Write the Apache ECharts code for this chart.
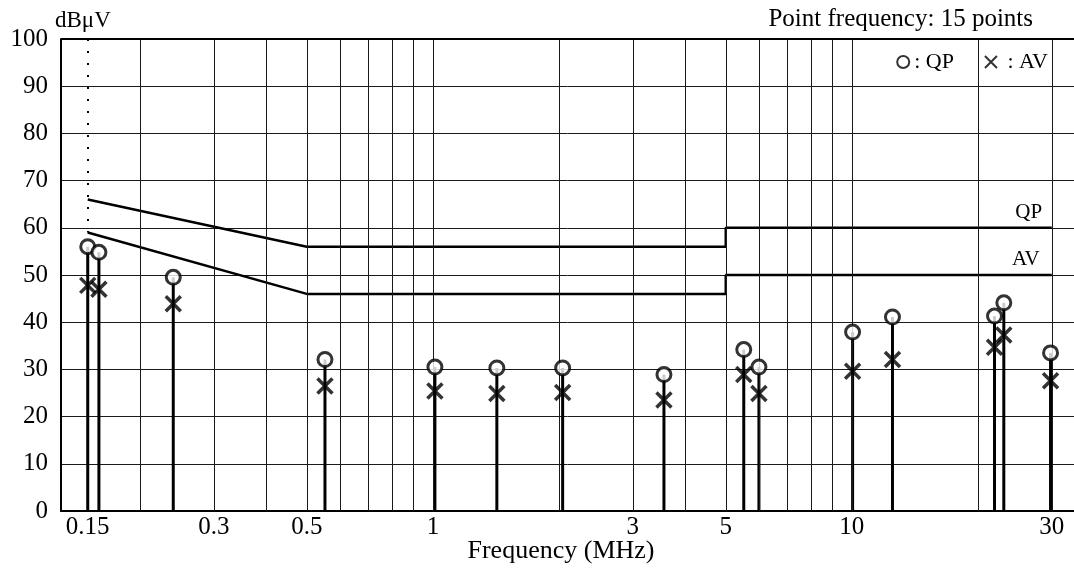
<!DOCTYPE html>
<html><head><meta charset="utf-8">
<script src="https://cdn.jsdelivr.net/npm/echarts@6/dist/echarts.min.js"></script>
<style>html,body{margin:0;padding:0;background:#fff}#c{width:1074px;height:569px}</style>
</head><body><div id="c"></div>
<script>
// ---- data ----
const freqs     = [0.15, 0.1595, 0.24, 0.5525, 1.011, 1.421, 2.04, 3.56, 5.52, 6.0, 10.04, 12.5, 21.9, 23.05, 29.8];
const qpValues  = [56.0, 54.8, 49.5, 32.1, 30.5, 30.3, 30.3, 28.9, 34.2, 30.5, 37.9, 41.1, 41.3, 44.1, 33.5];
const avValues  = [47.8, 47.0, 43.9, 26.5, 25.4, 24.9, 25.1, 23.5, 28.9, 24.9, 29.6, 32.1, 34.7, 37.3, 27.6];
const qpLimitFreq   = [0.15, 0.5, 5, 5, 30];
const qpLimitValues = [66, 56, 56, 60, 60];
const avLimitFreq   = [0.15, 0.5, 5, 5, 30];
const avLimitValues = [59, 46, 46, 50, 50];
const gridFreqs  = [0.2, 0.3, 0.4, 0.5, 0.6, 0.7, 0.8, 0.9, 1, 2, 3, 4, 5, 6, 7, 8, 9, 10, 20, 30];
const xTickValues = [0.15, 0.3, 0.5, 1, 3, 5, 10, 30];
const xTickLabels = ['0.15', '0.3', '0.5', '1', '3', '5', '10', '30'];
const legendLabels = {QP: ': QP', AV: ' : AV'};
const yMin = 0, yMax = 100, yStep = 10;
const xMin = 0.1295, xMax = 33.9;

const FONT = "'Liberation Serif', 'Times New Roman', serif";
const chart = echarts.init(document.getElementById('c'), null, {renderer: 'canvas'});

const zip = (a, b) => a.map((v, i) => [v, b[i]]);

chart.setOption({
  backgroundColor: '#fff',
  animation: false,
  title: {
    text: 'Point frequency: 15 points', right: 36, top: 2,
    textStyle: {fontFamily: FONT, fontSize: 25, fontWeight: 'normal', color: '#000'}
  },
  legend: {
    data: ['QP', 'AV'], right: 21, top: 46, itemWidth: 12, itemHeight: 12, itemGap: 30,
    selectedMode: false,
    formatter: n => legendLabels[n],
    textStyle: {fontFamily: FONT, fontSize: 22, color: '#000'}
  },
  grid: {left: 61, right: 0, top: 39, bottom: 56},
  xAxis: {
    type: 'log', logBase: 10, min: xMin, max: xMax,
    axisLine: {show: true, lineStyle: {color: '#000', width: 2}},
    axisTick: {show: false}, axisLabel: {show: false}, splitLine: {show: false}, minorSplitLine: {show: false},
    name: 'Frequency (MHz)', nameLocation: 'middle', nameGap: 27,
    nameTextStyle: {fontFamily: FONT, fontSize: 26, color: '#000', padding: [0, 13, 0, 0]}
  },
  yAxis: {
    type: 'value', min: yMin, max: yMax, interval: yStep,
    axisLine: {show: true, lineStyle: {color: '#000', width: 2}},
    axisTick: {show: false},
    axisLabel: {fontFamily: FONT, fontSize: 25, color: '#000', margin: 13},
    splitLine: {show: true, lineStyle: {color: '#1a1a1a', width: 1}},
    name: 'dBμV', nameLocation: 'end', nameGap: 7,
    nameTextStyle: {fontFamily: FONT, fontSize: 23, color: '#000', align: 'left', padding: [0, 0, 0, -6]}
  },
  series: [
    {
      name: 'QPlimit', type: 'line', data: zip(qpLimitFreq, qpLimitValues),
      symbol: 'none', lineStyle: {color: '#000', width: 2.5}, z: 3, silent: true,
      markLine: {
        silent: true, symbol: ['none', 'none'], label: {show: false}, animation: false,
        lineStyle: {color: '#1a1a1a', width: 1, type: 'solid'},
        data: gridFreqs.map(f => ({xAxis: f}))
          .concat([{yAxis: yMax, lineStyle: {color: '#000', width: 2, type: 'solid'}}])
          .concat([[{coord: [0.15, yMax], lineStyle: {color: '#000', width: 2, type: [2, 10]}}, {coord: [0.15, 59]}]])
      },
      markPoint: {
        symbol: 'circle', symbolSize: 0.1, itemStyle: {color: 'transparent'}, silent: true,
        label: {show: true, position: 'top', distance: 5, offset: [-23, 0], fontFamily: FONT, fontSize: 21, color: '#000', formatter: 'QP'},
        data: [{coord: [30, 60]}]
      }
    },
    {
      name: 'AVlimit', type: 'line', data: zip(avLimitFreq, avLimitValues),
      symbol: 'none', lineStyle: {color: '#000', width: 2.5}, z: 3, silent: true,
      markPoint: {
        symbol: 'circle', symbolSize: 0.1, itemStyle: {color: 'transparent'}, silent: true,
        label: {show: true, position: 'top', distance: 5, offset: [-26, 0], fontFamily: FONT, fontSize: 21, color: '#000', formatter: 'AV'},
        data: [{coord: [30, 50]}]
      }
    },
    {
      name: 'stems', type: 'custom', z: 4, silent: true,
      data: zip(freqs, qpValues),
      renderItem: (params, api) => {
        const p0 = api.coord([api.value(0), 0]);
        const p1 = api.coord([api.value(0), api.value(1)]);
        return {type: 'line', shape: {x1: p0[0], y1: p0[1], x2: p1[0], y2: p1[1]}, style: {stroke: '#000', lineWidth: 3}};
      }
    },
    {
      name: 'AV', type: 'scatter', data: zip(freqs, avValues), z: 5,
      symbol: 'path://M0,0L10,10M10,0L0,10', symbolSize: 15,
      itemStyle: {color: 'transparent', borderColor: '#000', borderWidth: 3.5}
    },
    {
      name: 'QP', type: 'scatter', data: zip(freqs, qpValues), z: 6,
      symbol: 'circle', symbolSize: 14,
      itemStyle: {color: '#fff', borderColor: '#000', borderWidth: 3}
    },
    {
      name: 'xticks', type: 'custom', z: 6, silent: true,
      data: xTickValues.map((v, i) => [v, yMin, i]),
      renderItem: (params, api) => {
        const p = api.coord([api.value(0), api.value(1)]);
        return {type: 'text', x: p[0], y: p[1] + 4,
          style: {text: xTickLabels[api.value(2)], font: '25px ' + FONT, fill: '#000', align: 'center', verticalAlign: 'top'}};
      }
    }
  ]
});
</script></body></html>
